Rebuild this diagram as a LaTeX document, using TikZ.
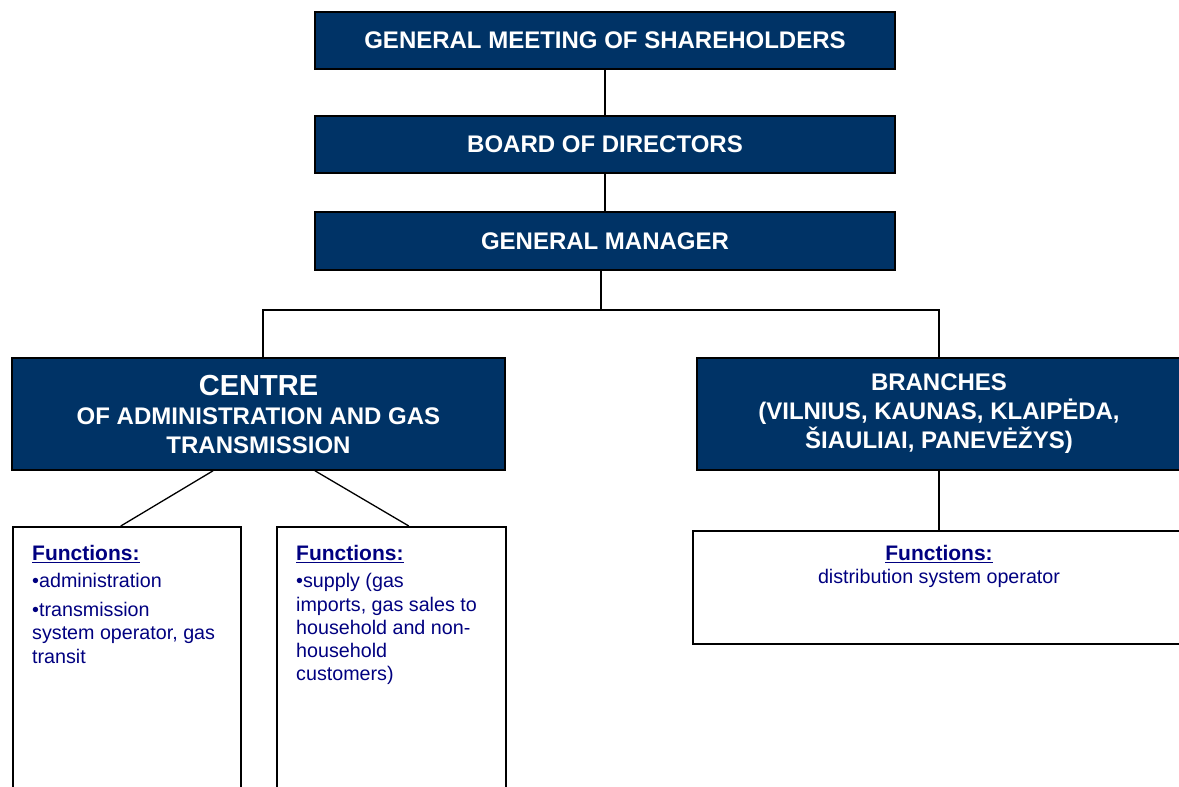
\documentclass[tikz,border=0pt]{standalone}
\usepackage{fontspec}
\setmainfont{Liberation Sans}
\definecolor{boxblue}{RGB}{0,51,102}
\definecolor{navytext}{RGB}{0,0,128}
\begin{document}
\begin{tikzpicture}[x=1pt,y=-1pt,
  hbox/.style={draw=black, line width=1.6pt, fill=boxblue, text=white,
    font=\bfseries\fontsize{24}{29}\selectfont, align=center, inner sep=0pt},
  funcbox/.style={draw=black, line width=1.6pt, fill=white, inner sep=0pt},
  ftext/.style={text=navytext, font=\fontsize{19.7}{23.3}\selectfont, inner sep=0pt},
  conn/.style={line width=1.3pt, draw=black}]
\useasboundingbox (0,0) rectangle (1179,787);
\clip (0,0) rectangle (1179,787);
\fill[white] (0,0) rectangle (1179,787);

\node[hbox, minimum width=580pt, minimum height=57pt] (gms) at (605,40.5) {GENERAL MEETING OF SHAREHOLDERS};
\node[hbox, minimum width=580pt, minimum height=57pt] (bod) at (605,144.5) {BOARD OF DIRECTORS};
\node[hbox, minimum width=580pt, minimum height=58pt] (gm) at (605,241) {GENERAL MANAGER};

\node[hbox, minimum width=493pt, minimum height=112pt] (centre) at (258.5,414)
  {{\fontsize{29}{33}\selectfont CENTRE}\\OF ADMINISTRATION AND GAS\\TRANSMISSION};
\node[hbox, minimum width=484pt, minimum height=112pt] (branches) at (939,414)
  {BRANCHES\\(VILNIUS, KAUNAS, KLAIPĖDA,\\ŠIAULIAI, PANEVĖŽYS)};

\node[funcbox, minimum width=228pt, minimum height=300pt, anchor=north west] (f1) at (12,526) {};
\node[funcbox, minimum width=229pt, minimum height=300pt, anchor=north west] (f2) at (276,526) {};
\node[funcbox, minimum width=492pt, minimum height=113pt, anchor=north] (f3) at (939,530) {};

\node[ftext, anchor=north west, align=left] (t1) at ([xshift=20pt,yshift=-19pt]f1.north west)
  {{\fontsize{21}{25}\selectfont\bfseries\underline{Functions:}}\\[4pt]
   •administration\\[5.5pt]
   •transmission\\system operator, gas\\transit};
\node[ftext, anchor=north west, align=left] (t2) at ([xshift=20pt,yshift=-19pt]f2.north west)
  {{\fontsize{21}{25}\selectfont\bfseries\underline{Functions:}}\\[4pt]
   •supply (gas\\imports, gas sales to\\household and non-\\household\\customers)};
\node[ftext, anchor=north, align=center] (t3) at ([yshift=-15pt]f3.north)
  {{\fontsize{21}{25}\selectfont\bfseries\underline{Functions:}}\\
   distribution system operator};

\coordinate (hl) at (263,310);
\coordinate (hr) at (939,310);
\draw[conn] (gms.south) -- (bod.north);
\draw[conn] (bod.south) -- (gm.north);
\draw[conn] ([xshift=-4pt]gm.south) -- ([xshift=-4pt]gm.south |- hl);
\draw[conn] (centre.north -| hl) -- (hl) -- (hr) -- (branches.north -| hr);
\draw[conn] ([xshift=-45.5pt]centre.south) -- ([xshift=-6pt]f1.north);
\draw[conn] ([xshift=56.5pt]centre.south) -- ([xshift=17.5pt]f2.north);
\draw[conn] (branches.south) -- (f3.north);
\end{tikzpicture}
\end{document}
